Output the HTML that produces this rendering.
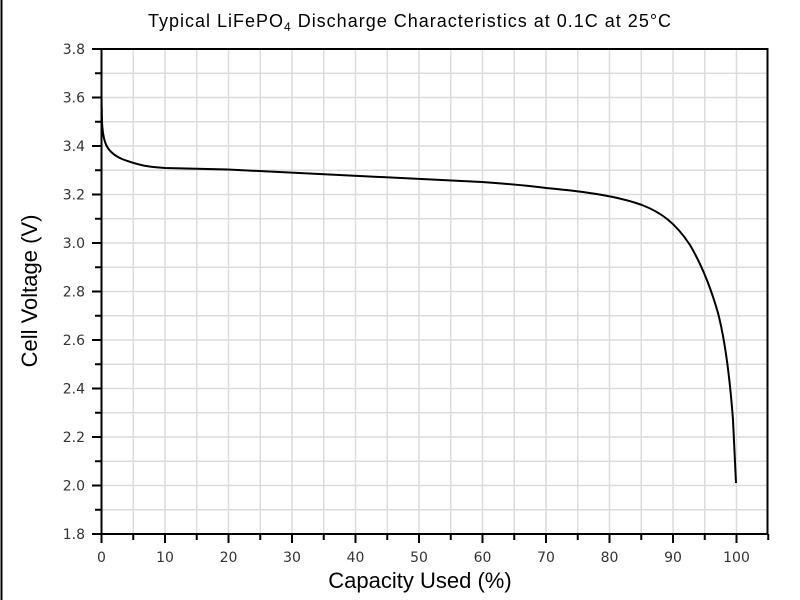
<!DOCTYPE html>
<html><head><style>
body{margin:0;background:#fff;}
svg{display:block;font-family:"Liberation Sans",sans-serif;}
</style></head><body>
<svg width="800" height="600" viewBox="0 0 800 600">
<rect x="0" y="0" width="800" height="600" fill="#fff"/>
<line x1="1.5" y1="0" x2="1.5" y2="600" stroke="#000" stroke-width="2"/>
<g id="grid" stroke="#dcdcdc" stroke-width="1.5"></g>
<text x="410" y="27" font-size="18" letter-spacing="1" text-anchor="middle">Typical LiFePO<tspan font-size="12" dy="4">4</tspan><tspan dy="-4"> Discharge Characteristics at 0.1C at 25°C</tspan></text>
<g id="ax"></g>
<path d="M101.5,97 L102,122 C103,142 106,152 122,159 C140,166 150,167 165,168 L228,169.5 L482,182 C510,184 530,186 546,188 C590,192 620,197 642,205 C660,212 675,222 690,245 C700,262 710,285 718,313 C725,340 730,380 733,420 L736,483" fill="none" stroke="#000" stroke-width="2"/>
<rect x="101.5" y="49" width="666" height="485" fill="none" stroke="#000" stroke-width="2"/>
<text x="420" y="588" font-size="22" text-anchor="middle">Capacity Used (%)</text>
<text transform="translate(37,291) rotate(-90)" font-size="22" text-anchor="middle">Cell Voltage (V)</text>
</svg>
<script>
var ns="http://www.w3.org/2000/svg",g=document.getElementById("grid"),ax=document.getElementById("ax");
function el(p,t,a){var e=document.createElementNS(ns,t);for(var k in a)e.setAttribute(k,a[k]);p.appendChild(e);return e;}
for(var i=1;i<21;i++){var x=101.5+i*31.75;el(g,"line",{x1:x,y1:49,x2:x,y2:534});}
for(var j=1;j<20;j++){var y=534-j*24.25;el(g,"line",{x1:101.5,y1:y,x2:767.5,y2:y});}
var ff="'DejaVu Sans',sans-serif";
for(var i=0;i<=21;i++){var x=101.5+i*31.75;var maj=i%2==0;el(ax,"line",{x1:x,y1:534,x2:x,y2:maj?543:540,stroke:"#000","stroke-width":2});
if(maj&&i<=20){var t=el(ax,"text",{x:x,y:562,"font-size":14,"font-family":ff,"text-anchor":"middle",fill:"#333"});t.textContent=(i*5);}}
for(var j=0;j<=20;j++){var y=534-j*24.25;var maj=j%2==0;el(ax,"line",{x1:maj?92:95,y1:y,x2:101.5,y2:y,stroke:"#000","stroke-width":2});
if(maj){var t=el(ax,"text",{x:85,y:y+5,"font-size":14,"font-family":ff,"text-anchor":"end",fill:"#333"});t.textContent=(1.8+j*0.1).toFixed(1);}}
</script>
</body></html>
